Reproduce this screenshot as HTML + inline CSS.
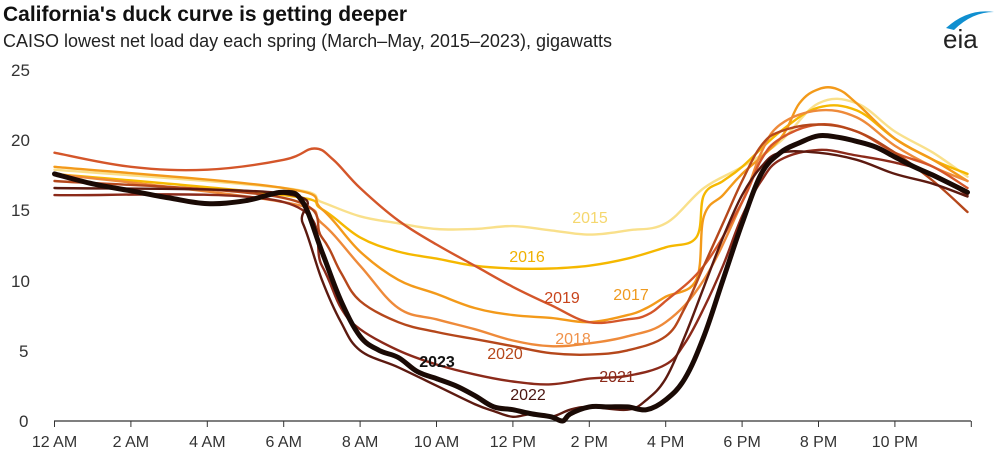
<!DOCTYPE html>
<html><head><meta charset="utf-8"><style>
body{margin:0;background:#fff;width:1000px;height:461px;overflow:hidden;font-family:"Liberation Sans",Arial,sans-serif}
</style></head><body>
<svg id="s" width="1000" height="461" xmlns="http://www.w3.org/2000/svg" font-family="Liberation Sans, Arial, sans-serif">
<text x="3" y="21" font-size="21" font-weight="bold" fill="#111">California's duck curve is getting deeper</text>
<text x="3" y="47" font-size="18" fill="#222">CAISO lowest net load day each spring (March–May, 2015–2023), gigawatts</text>
<text x="943" y="48" font-size="26" fill="#222">eia</text>
<path d="M946 28 Q968 8 994 12 Q972 12 954 30Z" fill="#0f8fd0"/>
<g font-size="17" fill="#333" text-anchor="start">
<text x="11" y="76">25</text><text x="11" y="146">20</text><text x="11" y="216">15</text><text x="11" y="287">10</text><text x="19" y="357">5</text><text x="19" y="427">0</text>
</g>
<line x1="54" y1="421" x2="971" y2="421" stroke="#333" stroke-width="1.2"/>
<g id="ticks"></g>
<g font-size="16" fill="#333" text-anchor="middle" id="xl"></g>
<g id="lines" fill="none" stroke-linejoin="round" stroke-linecap="round"></g>
<g font-size="16">
<text x="590" y="223" fill="#f5d76e" text-anchor="middle">2015</text>
<text x="527" y="262" fill="#f0b000" text-anchor="middle">2016</text>
<text x="631" y="300" fill="#ef9a1e" text-anchor="middle">2017</text>
<text x="562" y="303" fill="#c8441c" text-anchor="middle">2019</text>
<text x="573" y="344" fill="#f0924a" text-anchor="middle">2018</text>
<text x="505" y="359" fill="#b5471b" text-anchor="middle">2020</text>
<text x="617" y="382" fill="#8b2a1a" text-anchor="middle">2021</text>
<text x="437" y="367" fill="#111" font-weight="bold" text-anchor="middle">2023</text>
<text x="528" y="400" fill="#4a1510" text-anchor="middle">2022</text>
</g>
</svg>
<script>
var X=function(h){return 54.5+h*38.2},Y=function(g){return 421-g*14.12};
var ns="http://www.w3.org/2000/svg";
var t=document.getElementById('ticks'),xl=document.getElementById('xl');
var labs=["12 AM","2 AM","4 AM","6 AM","8 AM","10 AM","12 PM","2 PM","4 PM","6 PM","8 PM","10 PM"];
for(var i=0;i<=12;i++){var l=document.createElementNS(ns,'line');l.setAttribute('x1',X(i*2));l.setAttribute('x2',X(i*2));l.setAttribute('y1',421);l.setAttribute('y2',427);l.setAttribute('stroke','#333');t.appendChild(l);
if(i<12){var tx=document.createElementNS(ns,'text');tx.setAttribute('x',X(i*2));tx.setAttribute('y',447);tx.textContent=labs[i];xl.appendChild(tx);}}
var D=[
["#f9e08b",2.4,[0,17.8,6,16.5,7,15.5,8,14.5,9,14,10,13.6,11,13.6,12,13.8,13,13.5,14,13.2,15,13.5,16,14,17,16.5,18,18,19,19.8,20,22.5,21,22.5,22,20.5,23,19,24,17.3]],
["#f5b800",2.4,[0,17.5,6,16,7,15,8,13,9,12,10,11.5,11,11,12,10.8,13,10.8,14,11,15,11.5,16,12.3,16.8,13,17,16,17.5,17,18,18,19,20.5,20,22.2,21,22,22,20,23,18.5,24,17.5]],
["#f39a1a",2.4,[0,18,6,16.5,7,15,8,12,9,10,10,9,11,8,12,7.5,13,7.3,14,7,15,7.5,15.5,8,16,8.8,16.8,10,17,14.5,17.5,16,18,17.5,19,20,19.5,22.5,20,23.5,20.5,23.5,21,22.5,22,20,23,18.5,24,17]],
["#ee8a3a",2.4,[0,17.5,6,15.5,7,14,8,11,9,8,10,7.2,11,6.5,12,5.7,13,5.3,14,5.5,15,6,16,7,17,10,18,15.5,18.5,19,19,21,20,22,21,21.5,22,19.5,23,18,24,17]],
["#d4562a",2.4,[0,19,2,18,4,17.8,6,18.5,6.8,19.3,7.3,18.5,8,16.5,9,14.2,10,12.5,11,11,12,9.5,13,8.2,14,7,15,7.2,15.5,7.5,16,8.5,17,11,18,15.5,18.5,18.5,19,20,20,21,21,20.5,22,19,23,18,24,16.5]],
["#b5471b",2.4,[0,17,6,15.8,7,13,7.5,10.5,8,8.5,9,7,10,6.3,11,5.8,12,5.3,13,4.8,14,4.7,15,5,16,6,16.5,8,17,11,17.5,14,18,17,18.5,19.5,19,20.5,20,21,21,20.5,22,19,23,17,24,14.8]],
["#8b2a1a",2.4,[0,16,6,15.5,7,11,7.5,8,8,6.5,9,5,10,4,11,3.3,12,2.8,13,2.6,14,3,15,3.2,16,4,16.5,5.5,17,8,17.5,11,18,14.5,18.5,17,19,18.5,20,19.2,21,18.8,22,18.3,23,17.5,24,16]],
["#5c1a10",2.4,[0,16.5,6,16.1,6.5,14,7,10,7.5,7,8,5,9,3.8,10,2.5,11,1.2,11.5,0.7,12,0.3,12.5,0.5,13,0.3,13.5,0.8,14,1,15,0.8,15.5,1.5,16,3,16.5,6,17,9.5,17.5,13,18,16,18.5,18,19,19,20,19,21,18.5,22,17.5,23,16.8,24,15.9]],
["#1a0a05",5,[0,17.5,1,16.8,2,16.3,3,15.8,4,15.4,5,15.6,6,16.2,6.5,15.5,7,12,7.5,8.5,8,6,8.5,5,9,4.5,9.5,3.5,10,3,10.5,2.5,11,1.8,11.5,1,12,0.8,12.5,0.5,13,0.3,13.3,0,13.5,0.5,14,1,14.5,1,15,1,15.5,0.8,16,1.5,16.5,3,17,6,17.5,10,18,14,18.5,17.5,19,19,19.5,19.7,20,20.2,20.5,20.1,21,19.8,21.5,19.4,22,18.7,22.5,18,23,17.4,24,16.2]]];
var g=document.getElementById('lines');
D.forEach(function(d){var a=d[2],P=[];for(var i=0;i<a.length;i+=2){P.push([X(Math.min(a[i],23.9)),Y(a[i+1])]);}
var s='M'+P[0][0].toFixed(1)+' '+P[0][1].toFixed(1);
for(var i=0;i<P.length-1;i++){var p0=P[Math.max(i-1,0)],p1=P[i],p2=P[i+1],p3=P[Math.min(i+2,P.length-1)];
var k=0.18;var c1=[p1[0]+(p2[0]-p0[0])*k,p1[1]+(p2[1]-p0[1])*k],c2=[p2[0]-(p3[0]-p1[0])*k,p2[1]-(p3[1]-p1[1])*k];
s+=' C'+c1[0].toFixed(1)+' '+c1[1].toFixed(1)+' '+c2[0].toFixed(1)+' '+c2[1].toFixed(1)+' '+p2[0].toFixed(1)+' '+p2[1].toFixed(1);}
var pl=document.createElementNS(ns,'path');pl.setAttribute('d',s);pl.setAttribute('stroke',d[0]);pl.setAttribute('stroke-width',d[1]);g.appendChild(pl);});
</script>
</body></html>
